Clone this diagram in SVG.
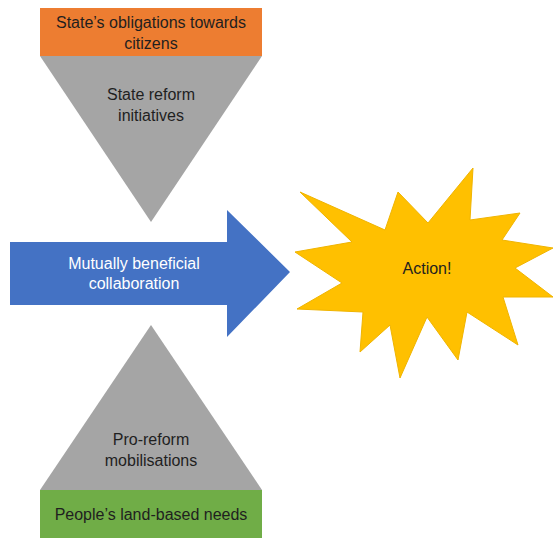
<svg xmlns="http://www.w3.org/2000/svg" width="555" height="538" viewBox="0 0 555 538">
  <style>
    .lbl { font-family: "Liberation Sans", Arial, sans-serif; font-size: 16px; text-anchor: middle; fill: #1f1f1f; }
    .light { fill: #ffffff; }
  </style>
  <rect width="555" height="538" fill="#ffffff"/>

  <g id="state-obligations">
    <rect x="40" y="8" width="222" height="48" fill="#ED7D31"/>
    <text class="lbl" x="151" y="28">State’s obligations towards</text>
    <text class="lbl" x="151" y="49">citizens</text>
  </g>

  <g id="state-reform">
    <polygon points="40,56 262,56 151,222" fill="#A5A5A5"/>
    <text class="lbl" x="151" y="100">State reform</text>
    <text class="lbl" x="151" y="121">initiatives</text>
  </g>

  <g id="collaboration">
    <polygon points="10,242 227,242 227,210 290,272 227,337 227,305 10,305" fill="#4472C4"/>
    <text class="lbl light" x="134" y="269">Mutually beneficial</text>
    <text class="lbl light" x="134" y="289">collaboration</text>
  </g>

  <g id="action">
    <polygon points="300,192 385,230 398,192 428,223 473,168 470,220 520,213 502,240 553,248 515,268 553,297 503,297 518,345 467,312 458,360 427,317 400,378 390,325 360,352 363,312 297,309 342,283 295,252 352,242" fill="#FFC000" stroke="#F0B400" stroke-width="1"/>
    <text class="lbl" x="427" y="274">Action!</text>
  </g>

  <g id="pro-reform">
    <polygon points="151,325 262,490 40,490" fill="#A5A5A5"/>
    <text class="lbl" x="151" y="445">Pro-reform</text>
    <text class="lbl" x="151" y="466">mobilisations</text>
  </g>

  <g id="land-needs">
    <rect x="40" y="490" width="222" height="48" fill="#70AD47"/>
    <text class="lbl" x="151" y="520">People’s land-based needs</text>
  </g>

  <g id="connectors"/>
</svg>
